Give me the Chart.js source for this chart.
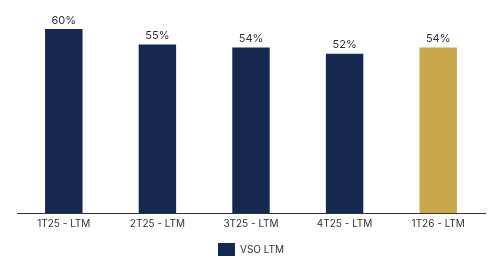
<!DOCTYPE html>
<html>
<head>
<meta charset="utf-8">
<script src="https://cdn.jsdelivr.net/npm/chart.js@4"></script>
<style>
  html, body { margin: 0; padding: 0; background: #fff; }
  #wrap { width: 502px; height: 268px; }
</style>
</head>
<body>
<div id="wrap"><canvas id="vsoChart"></canvas></div>
<script>
// Data
const labels = ['1T25 - LTM', '2T25 - LTM', '3T25 - LTM', '4T25 - LTM', '1T26 - LTM'];
const vsoValues = [60, 55, 54, 52, 54];
const barColors = ['#15284f', '#15284f', '#15284f', '#15284f', '#c8a84b'];

// labels au-dessus des barres
const valueLabels = {
    id: 'valueLabels',
    afterDatasetsDraw(chart) {
        const ctx = chart.ctx;
        const meta = chart.getDatasetMeta(0);
        ctx.save();
        ctx.font = '11px Inter, "DejaVu Sans", sans-serif';
        ctx.fillStyle = '#333333';
        ctx.textAlign = 'center';
        ctx.textBaseline = 'bottom';
        meta.data.forEach((bar, i) => {
            ctx.fillText(vsoValues[i] + '%', bar.x, bar.y - 3);
        });
        ctx.restore();
    }
};

const ctx = document.getElementById('vsoChart').getContext('2d');
const vsoChart = new Chart(ctx, {
    type: 'bar',
    data: {
        labels: labels,
        datasets: [{
            label: 'VSO LTM',
            data: vsoValues,
            backgroundColor: barColors,
            barPercentage: 0.4,
            categoryPercentage: 1
        }]
    },
    options: {
        responsive: true,
        maintainAspectRatio: false,
        animation: false,
        layout: { padding: { left: 17, right: 17, top: 0, bottom: 2 } },
        plugins: {
            tooltip: { enabled: false },
            legend: {
                position: 'bottom',
                labels: {
                    boxWidth: 17,
                    boxHeight: 13,
                    color: '#333333',
                    padding: 8,
                    font: { family: 'Inter, "DejaVu Sans", sans-serif', size: 10 }
                }
            }
        },
        scales: {
            x: {
                grid: { display: false, drawTicks: false },
                border: { display: true, color: '#333333', width: 1 },
                ticks: {
                    color: '#333333',
                    padding: 5,
                    font: { family: 'Inter, "DejaVu Sans", sans-serif', size: 10 }
                }
            },
            y: {
                display: false,
                min: 0,
                max: 69.5
            }
        }
    },
    plugins: [valueLabels]
});
</script>
</body>
</html>
